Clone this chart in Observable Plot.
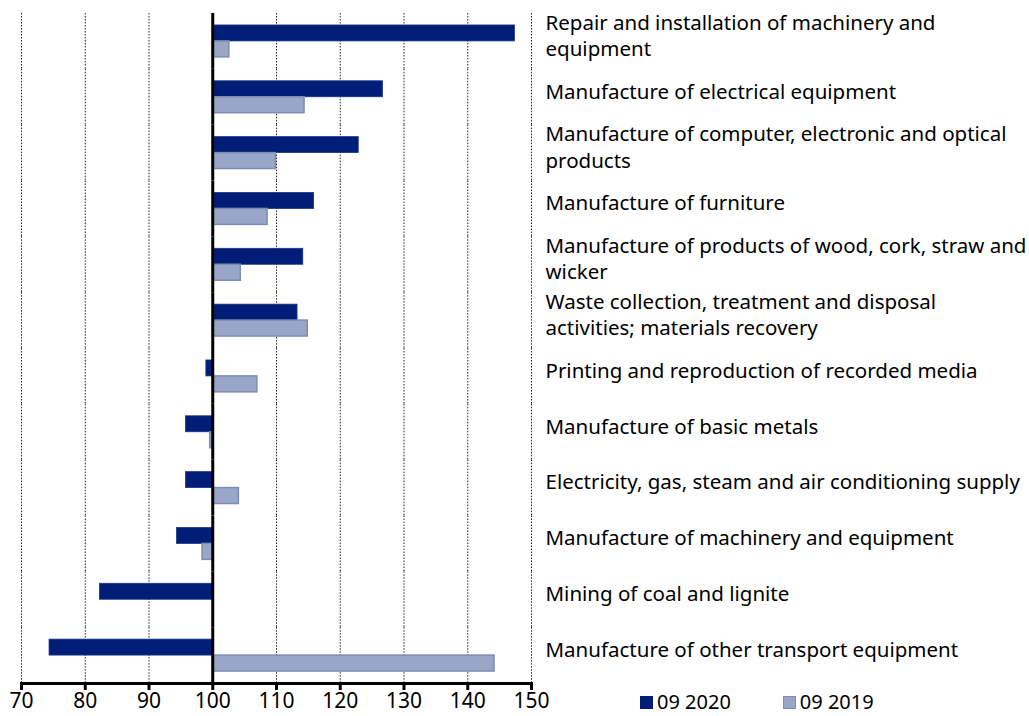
<!DOCTYPE html>
<html><head><meta charset="utf-8">
<script src="https://cdn.jsdelivr.net/npm/d3@7"></script>
<script src="https://cdn.jsdelivr.net/npm/@observablehq/plot@0.6"></script>
<style>
body{margin:0;background:#fff;font-family:"Noto Sans",sans-serif;}
#wrap{position:relative;width:1029px;height:716px}
#legend{position:absolute;left:640px;top:691px;height:22px;font-size:20px;line-height:22px;color:#000;display:flex;align-items:center}
#legend .sw{display:inline-block;width:13px;height:13px;margin-right:4px;box-sizing:border-box}
#legend .item{display:flex;align-items:center}
</style></head><body><div id="wrap"><div id="legend"></div></div>
<script>
const categories = [
  "Repair and installation of machinery and equipment",
  "Manufacture of electrical equipment",
  "Manufacture of computer, electronic and optical products",
  "Manufacture of furniture",
  "Manufacture of products of wood, cork, straw and wicker",
  "Waste collection, treatment and disposal activities; materials recovery",
  "Printing and reproduction of recorded media",
  "Manufacture of basic metals",
  "Electricity, gas, steam and air conditioning supply",
  "Manufacture of machinery and equipment",
  "Mining of coal and lignite",
  "Manufacture of other transport equipment"
];
const labels = [
  "Repair and installation of machinery and\nequipment",
  "Manufacture of electrical equipment",
  "Manufacture of computer, electronic and optical\nproducts",
  "Manufacture of furniture",
  "Manufacture of products of wood, cork, straw and\nwicker",
  "Waste collection, treatment and disposal\nactivities; materials recovery",
  "Printing and reproduction of recorded media",
  "Manufacture of basic metals",
  "Electricity, gas, steam and air conditioning supply",
  "Manufacture of machinery and equipment",
  "Mining of coal and lignite",
  "Manufacture of other transport equipment"
];
const values2020 = [147.4, 126.7, 122.9, 115.9, 114.2, 113.3, 99.0, 95.8, 95.8, 94.4, 82.3, 74.4];
const values2019 = [102.6, 114.4, 109.9, 108.6, 104.4, 114.9, 107.0, 99.6, 104.1, 98.4, null, 144.2];
const seriesNames = ["09 2020", "09 2019"];
const xTicks = [70, 80, 90, 100, 110, 120, 130, 140, 150];
const baseline = 100;

const rows2020 = categories.map((c, i) => ({category: c, series: seriesNames[0], value: values2020[i]}));
const rows2019 = categories.map((c, i) => ({category: c, series: seriesNames[1], value: values2019[i]})).filter(d => d.value != null);

const chart = Plot.plot({
  width: 1029, height: 716,
  marginTop: 13, marginBottom: 33, marginLeft: 21, marginRight: 498,
  style: {fontFamily: "Noto Sans", fontSize: "20px", background: "white", color: "#000"},
  x: {domain: [70, 150], axis: null, label: null},
  y: {domain: seriesNames, axis: null, paddingInner: 0, paddingOuter: 0.75, round: false},
  fy: {domain: categories, axis: null, padding: 0, round: false},
  marks: [
    Plot.ruleX(xTicks.filter(t => t !== baseline), {stroke: "#222", strokeWidth: 1, strokeDasharray: "1.5,1.5"}),
    Plot.barX(rows2020, {fy: "category", y: "series", x1: baseline, x2: "value", fill: "#001e78", stroke: "#1a3585", strokeWidth: 0.8}),
    Plot.barX(rows2019, {fy: "category", y: "series", x1: baseline, x2: "value", fill: "#9aa6c8", stroke: "#7d8cb0", strokeWidth: 1.5}),
    Plot.ruleX([baseline], {stroke: "#000", strokeWidth: 3}),
    Plot.text(categories, {fy: d => d, text: (d, i) => labels[i], frameAnchor: "right", textAnchor: "start", dx: 14, dy: -7, lineHeight: 1.28, fontSize: 20.5, fill: "#000"}),
    Plot.frame({anchor: "bottom", facet: "super", stroke: "#000", strokeWidth: 3}),
    Plot.axisX(xTicks, {label: null, tickSize: 7, strokeWidth: 3, tickPadding: 3, fontSize: 21, stroke: "#000", fill: "#000"})
  ]
});
const wrap = document.getElementById("wrap");
wrap.insertBefore(chart, wrap.firstChild);

const legend = document.getElementById("legend");
const swatchStyles = [
  {fill: "#001e78", stroke: "#001e78", ml: 0},
  {fill: "#9aa6c8", stroke: "#7d8cb0", ml: 52}
];
seriesNames.forEach((s, i) => {
  const item = document.createElement("span");
  item.className = "item";
  item.style.marginLeft = swatchStyles[i].ml + "px";
  const sw = document.createElement("span");
  sw.className = "sw";
  sw.style.background = swatchStyles[i].fill;
  sw.style.border = "1px solid " + swatchStyles[i].stroke;
  item.appendChild(sw);
  item.appendChild(document.createTextNode(s));
  legend.appendChild(item);
});
</script></body></html>
